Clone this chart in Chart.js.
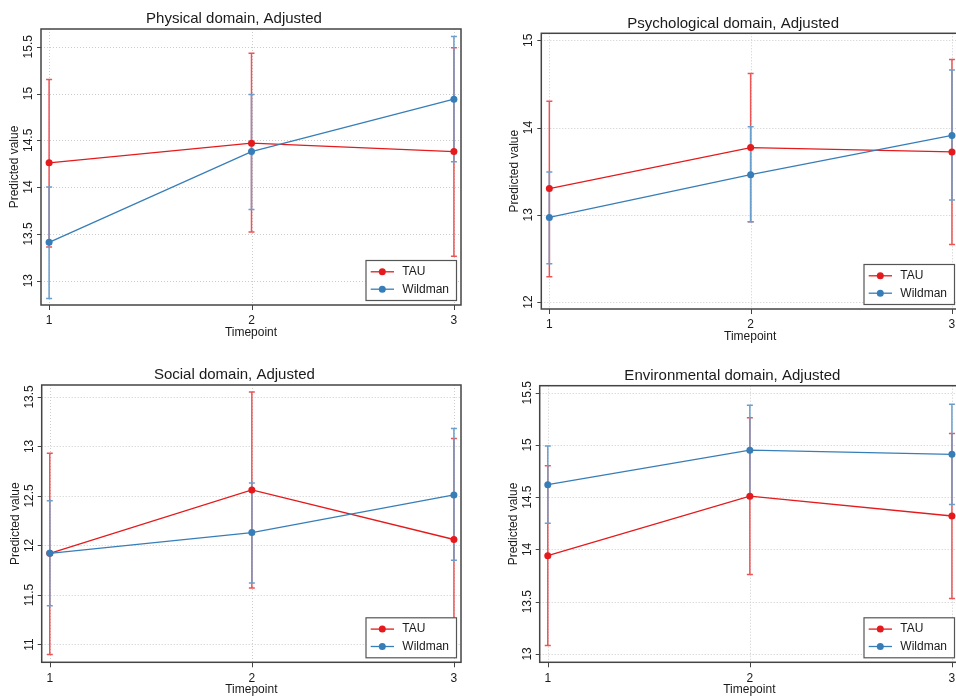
<!DOCTYPE html>
<html>
<head>
<meta charset="utf-8">
<script src="https://cdn.jsdelivr.net/npm/chart.js@4.4.1/dist/chart.umd.min.js"></script>
<style>
html,body{margin:0;padding:0;background:#fff;overflow:hidden;width:956px;height:698px;position:relative}
.p{position:absolute;overflow:hidden;height:349px;width:478px}
canvas{display:block}
</style>
</head>
<body>
<div class="p" style="left:0;top:0"><canvas id="c1" width="478" height="349"></canvas></div>
<div class="p" style="left:478px;top:0"><canvas id="c2" width="500" height="349"></canvas></div>
<div class="p" style="left:0;top:349px"><canvas id="c3" width="478" height="349"></canvas></div>
<div class="p" style="left:478px;top:349px"><canvas id="c4" width="500" height="349"></canvas></div>
<script>
// ---------- data ----------
const timepoints = [1, 2, 3];
const seriesNames = ['TAU', 'Wildman'];
const xAxisTitle = 'Timepoint';
const yAxisTitle = 'Predicted value';

const physicalTitle = 'Physical domain, Adjusted';
const physicalTAU = [14.26, 14.47, 14.38];
const physicalTAULow = [13.36, 13.52, 13.26];
const physicalTAUHigh = [15.15, 15.43, 15.49];
const physicalWildman = [13.41, 14.38, 14.94];
const physicalWildmanLow = [12.81, 13.76, 14.27];
const physicalWildmanHigh = [14.00, 14.99, 15.61];
const physicalTicks = [13, 13.5, 14, 14.5, 15, 15.5];

const psychologicalTitle = 'Psychological domain, Adjusted';
const psychologicalTAU = [13.30, 13.77, 13.72];
const psychologicalTAULow = [12.29, 12.92, 12.66];
const psychologicalTAUHigh = [14.30, 14.62, 14.78];
const psychologicalWildman = [12.97, 13.46, 13.91];
const psychologicalWildmanLow = [12.44, 12.92, 13.17];
const psychologicalWildmanHigh = [13.49, 14.01, 14.66];
const psychologicalTicks = [12, 13, 14, 15];

const socialTitle = 'Social domain, Adjusted';
const socialTAU = [11.92, 12.56, 12.06];
const socialTAULow = [10.90, 11.57, 11.05];
const socialTAUHigh = [12.93, 13.55, 13.08];
const socialWildman = [11.92, 12.13, 12.51];
const socialWildmanLow = [11.39, 11.62, 11.85];
const socialWildmanHigh = [12.45, 12.63, 13.18];
const socialTicks = [11, 11.5, 12, 12.5, 13, 13.5];

const environmentalTitle = 'Environmental domain, Adjusted';
const environmentalTAU = [13.94, 14.51, 14.32];
const environmentalTAULow = [13.08, 13.76, 13.53];
const environmentalTAUHigh = [14.80, 15.26, 15.11];
const environmentalWildman = [14.62, 14.95, 14.91];
const environmentalWildmanLow = [14.25, 14.52, 14.43];
const environmentalWildmanHigh = [14.99, 15.38, 15.39];
const environmentalTicks = [13, 13.5, 14, 14.5, 15, 15.5];

// ---------- styling ----------
const LINE_COLORS = { TAU: '#e41a1c', Wildman: '#377eb8' };
const CI_COLORS = { TAU: '#ec5456', Wildman: '#6a9fcd' };
const FONT = '"Liberation Sans", Arial, Helvetica, sans-serif';
const TEXT = '#1a1a1a';

function seg(ctx, x1, y1, x2, y2) { ctx.beginPath(); ctx.moveTo(x1, y1); ctx.lineTo(x2, y2); ctx.stroke(); }

function makePanel(id, title, tau, tauLo, tauHi, wil, wilLo, wilHi, yTicks, yMin, yMax, padding) {
  const decor = {
    id: 'stataDecor',
    beforeDatasetsDraw(chart) {
      const { ctx, chartArea: a, scales: { x, y } } = chart;
      ctx.save();
      // dotted grid
      ctx.strokeStyle = '#cccccc'; ctx.lineWidth = 1; ctx.setLineDash([1, 2]);
      yTicks.forEach(v => { const py = Math.round(y.getPixelForValue(v)) + 0.5; seg(ctx, a.left, py, a.right, py); });
      timepoints.forEach(v => { const px = Math.round(x.getPixelForValue(v)) + 0.5; seg(ctx, px, a.top, px, a.bottom); });
      ctx.setLineDash([]);
      // confidence intervals (TAU first, Wildman on top)
      chart.data.datasets.forEach(ds => {
        ctx.strokeStyle = CI_COLORS[ds.label]; ctx.lineWidth = 1.5;
        ds.ciLow.forEach((lo, j) => {
          const px = x.getPixelForValue(timepoints[j]);
          const p1 = y.getPixelForValue(lo), p2 = y.getPixelForValue(ds.ciHigh[j]);
          ctx.beginPath();
          ctx.moveTo(px, p1); ctx.lineTo(px, p2);
          ctx.moveTo(px - 3, p1); ctx.lineTo(px + 3, p1);
          ctx.moveTo(px - 3, p2); ctx.lineTo(px + 3, p2);
          ctx.stroke();
        });
      });
      ctx.restore();
    },
    afterDraw(chart) {
      const { ctx, chartArea: a, scales: { x, y } } = chart;
      ctx.save();
      // frame
      ctx.strokeStyle = '#444'; ctx.lineWidth = 1.5;
      ctx.strokeRect(a.left, a.top, a.right - a.left, a.bottom - a.top);
      // ticks
      ctx.lineWidth = 1; ctx.strokeStyle = '#444';
      yTicks.forEach(v => { const py = Math.round(y.getPixelForValue(v)) + 0.5; seg(ctx, a.left - 4, py, a.left, py); });
      timepoints.forEach(v => { const px = Math.round(x.getPixelForValue(v)) + 0.5; seg(ctx, px, a.bottom, px, a.bottom + 5); });
      // tick labels
      ctx.fillStyle = TEXT; ctx.font = '12px ' + FONT;
      ctx.textAlign = 'center'; ctx.textBaseline = 'middle';
      timepoints.forEach(v => ctx.fillText(String(v), x.getPixelForValue(v), a.bottom + 16));
      yTicks.forEach(v => {
        ctx.save(); ctx.translate(a.left - 12.5, y.getPixelForValue(v)); ctx.rotate(-Math.PI / 2);
        ctx.fillText(String(v), 0, 0); ctx.restore();
      });
      // axis titles
      ctx.fillText(xAxisTitle, (a.left + a.right) / 2, a.bottom + 27.5);
      ctx.save(); ctx.translate(a.left - 26.5, (a.top + a.bottom) / 2); ctx.rotate(-Math.PI / 2);
      ctx.fillText(yAxisTitle, 0, 0); ctx.restore();
      // panel title
      ctx.font = '15px ' + FONT; ctx.textBaseline = 'alphabetic';
      ctx.fillText(title, (a.left + a.right) / 2 - 17, a.top - 5.7);
      // legend
      const w = 90.5, h = 40;
      const lx = a.right - 4.5 - w, ly = a.bottom - 4.5 - h;
      ctx.fillStyle = '#fff'; ctx.fillRect(lx, ly, w, h);
      ctx.strokeStyle = '#555'; ctx.lineWidth = 1.2; ctx.strokeRect(lx, ly, w, h);
      chart.data.datasets.forEach((ds, i) => {
        const ry = ly + 11.3 + i * 17.4;
        ctx.strokeStyle = LINE_COLORS[ds.label]; ctx.lineWidth = 1.3;
        seg(ctx, lx + 4.7, ry, lx + 28, ry);
        ctx.fillStyle = LINE_COLORS[ds.label];
        ctx.beginPath(); ctx.arc(lx + 16.3, ry, 3.5, 0, Math.PI * 2); ctx.fill();
        ctx.fillStyle = TEXT; ctx.font = '12px ' + FONT; ctx.textAlign = 'left'; ctx.textBaseline = 'middle';
        ctx.fillText(ds.label, lx + 36.3, ry);
      });
      ctx.restore();
    }
  };
  const mk = (name, vals, lo, hi, order) => ({
    label: name,
    data: timepoints.map((t, i) => ({ x: t, y: vals[i] })),
    ciLow: lo, ciHigh: hi,
    borderColor: LINE_COLORS[name], backgroundColor: LINE_COLORS[name],
    pointBackgroundColor: LINE_COLORS[name], pointBorderWidth: 0,
    pointRadius: 3.5, borderWidth: 1.3, tension: 0, order: order
  });
  return new Chart(document.getElementById(id), {
    type: 'line',
    data: { datasets: [mk(seriesNames[0], tau, tauLo, tauHi, 1), mk(seriesNames[1], wil, wilLo, wilHi, 0)] },
    options: {
      responsive: false, animation: false, devicePixelRatio: 1,
      layout: { padding: padding },
      plugins: { legend: { display: false }, tooltip: { enabled: false }, title: { display: false } },
      scales: {
        x: { type: 'linear', min: 0.96, max: 3.035, display: false },
        y: { type: 'linear', min: yMin, max: yMax, display: false }
      }
    },
    plugins: [decor]
  });
}

makePanel('c1', physicalTitle, physicalTAU, physicalTAULow, physicalTAUHigh,
  physicalWildman, physicalWildmanLow, physicalWildmanHigh, physicalTicks, 12.74, 15.69,
  { left: 41, top: 29, right: 17, bottom: 44 });
makePanel('c2', psychologicalTitle, psychologicalTAU, psychologicalTAULow, psychologicalTAUHigh,
  psychologicalWildman, psychologicalWildmanLow, psychologicalWildmanHigh, psychologicalTicks, 11.92, 15.08,
  { left: 63.3, top: 33.3, right: 19, bottom: 40 });
makePanel('c3', socialTitle, socialTAU, socialTAULow, socialTAUHigh,
  socialWildman, socialWildmanLow, socialWildmanHigh, socialTicks, 10.82, 13.62,
  { left: 41.7, top: 36, right: 17, bottom: 35.7 });
makePanel('c4', environmentalTitle, environmentalTAU, environmentalTAULow, environmentalTAUHigh,
  environmentalWildman, environmentalWildmanLow, environmentalWildmanHigh, environmentalTicks, 12.92, 15.567,
  { left: 61.7, top: 36.7, right: 19, bottom: 35.7 });
</script>
</body>
</html>
